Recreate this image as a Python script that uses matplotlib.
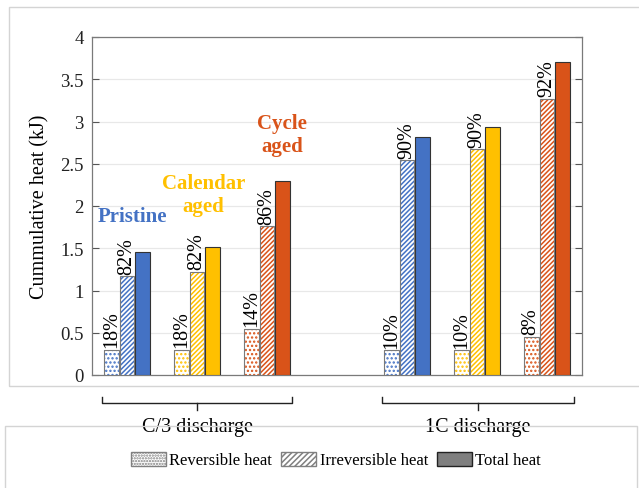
import matplotlib
matplotlib.use("Agg")
import matplotlib.pyplot as plt
from matplotlib.patches import Patch, Rectangle
from matplotlib.lines import Line2D
import matplotlib.transforms as mtransforms

# ---- data ----
groups = ['C/3 discharge', '1C discharge']
conditions = ['Pristine', 'Calendar\naged', 'Cycle\naged']
positions = [1, 2, 3, 5, 6, 7]
reversible = [0.30, 0.30, 0.55, 0.29, 0.29, 0.45]
irreversible = [1.17, 1.22, 1.76, 2.54, 2.67, 3.27]
total = [1.46, 1.52, 2.30, 2.82, 2.94, 3.71]
rev_pct = ['18%', '18%', '14%', '10%', '10%', '8%']
irr_pct = ['82%', '82%', '86%', '90%', '90%', '92%']
yticks = [0, 0.5, 1, 1.5, 2, 2.5, 3, 3.5, 4]
ytick_labels = ['0', '0.5', '1', '1.5', '2', '2.5', '3', '3.5', '4']
legend_labels = ['Reversible heat', 'Irreversible heat', 'Total heat']

colors = ['#4472C4', '#FFC000', '#D95319'] * 2

plt.rcParams['font.family'] = ['Liberation Serif', 'DejaVu Serif']
plt.rcParams['hatch.linewidth'] = 1.1

fig = plt.figure(figsize=(6.39, 4.89), dpi=100)
W, H = 639, 489

# outer frames (figure-level boxes)
fig.patches.append(Rectangle((9 / W, 1 - 387 / H), 640 / W, (387 - 8) / H,
                             transform=fig.transFigure, fill=False,
                             edgecolor='#d4d4d4', linewidth=1.0, zorder=0))
fig.patches.append(Rectangle((5 / W, -0.05), (637 - 5) / W, 0.05 + (489 - 427) / H,
                             transform=fig.transFigure, fill=False,
                             edgecolor='#d4d4d4', linewidth=1.0, zorder=0))

ax = fig.add_axes([92 / W, 1 - 376 / H, (582 - 92) / W, (376 - 38) / H])

w = 0.21
off = 0.225
for i, x in enumerate(positions):
    c = colors[i]
    # reversible (dots)
    ax.bar(x - off, reversible[i], w, facecolor='white', edgecolor=c,
           hatch='....', linewidth=0, zorder=3)
    ax.bar(x - off, reversible[i], w, fill=False, edgecolor='#7a7a7a',
           linewidth=0.8, zorder=4)
    # irreversible (diagonal)
    ax.bar(x, irreversible[i], w, facecolor='white', edgecolor=c,
           hatch='///////', linewidth=0, zorder=3)
    ax.bar(x, irreversible[i], w, fill=False, edgecolor='#7a7a7a',
           linewidth=0.8, zorder=4)
    # total
    ax.bar(x + off, total[i], w, facecolor=c, edgecolor='#333333',
           linewidth=0.8, zorder=3)
    # percentages
    ax.text(x - off, reversible[i] + 0.03, rev_pct[i], rotation=90,
            ha='center', va='bottom', fontsize=14.5, zorder=5)
    ax.text(x, irreversible[i] + 0.03, irr_pct[i], rotation=90,
            ha='center', va='bottom', fontsize=14.5, zorder=5)

ax.set_xlim(0.5, 7.5)
ax.set_ylim(0, 4)
ax.set_yticks(yticks)
ax.set_yticklabels(ytick_labels, fontsize=13.5)
ax.set_xticks([])
ax.yaxis.grid(True, color='#e8e8e8', linewidth=0.9, zorder=0)
ax.set_axisbelow(True)
ax.tick_params(axis='y', direction='in', length=5, right=True,
               color='#555555', labelcolor='#222222', pad=6)
for s in ax.spines.values():
    s.set_color('#7a7a7a')
    s.set_linewidth(0.9)
ax.set_ylabel('Cummulative heat (kJ)', fontsize=14.5, labelpad=8)

# condition labels
ax.text(1.07, 1.88, conditions[0], color=colors[0], fontsize=15,
        fontweight='bold', ha='center', va='center', zorder=6)
ax.text(2.09, 2.14, conditions[1], color=colors[1], fontsize=15,
        fontweight='bold', ha='center', va='center', linespacing=1.2, zorder=6)
ax.text(3.22, 2.85, conditions[2], color=colors[2], fontsize=15,
        fontweight='bold', ha='center', va='center', linespacing=1.2, zorder=6)

# brackets below axes
trans = mtransforms.blended_transform_factory(ax.transData, fig.transFigure)
def fy(py):
    return 1 - py / H
for gi, (x0, x1) in enumerate([(0.64, 3.36), (4.64, 7.38)]):
    xc = (x0 + x1) / 2
    ax.add_line(Line2D([x0, x0, x1, x1], [fy(398), fy(404), fy(404), fy(398)],
                       transform=trans, color='#222222', linewidth=1.0,
                       clip_on=False))
    ax.add_line(Line2D([xc, xc], [fy(404), fy(411)], transform=trans,
                       color='#222222', linewidth=1.0, clip_on=False))
    ax.text(xc, fy(428), groups[gi], transform=trans, ha='center',
            va='center', fontsize=14.5, clip_on=False)

handles = [Patch(facecolor='white', edgecolor='#808080', hatch='......'),
           Patch(facecolor='white', edgecolor='#808080', hatch='//////'),
           Patch(facecolor='#7f7f7f', edgecolor='#222222')]
fig.legend(handles, legend_labels, loc='center', ncol=3,
           bbox_to_anchor=(336 / W, 1 - 461 / H), frameon=False,
           fontsize=12, handlelength=2.1, handleheight=0.9,
           columnspacing=0.55, handletextpad=0.2)

fig.savefig('out.png', dpi=100)
